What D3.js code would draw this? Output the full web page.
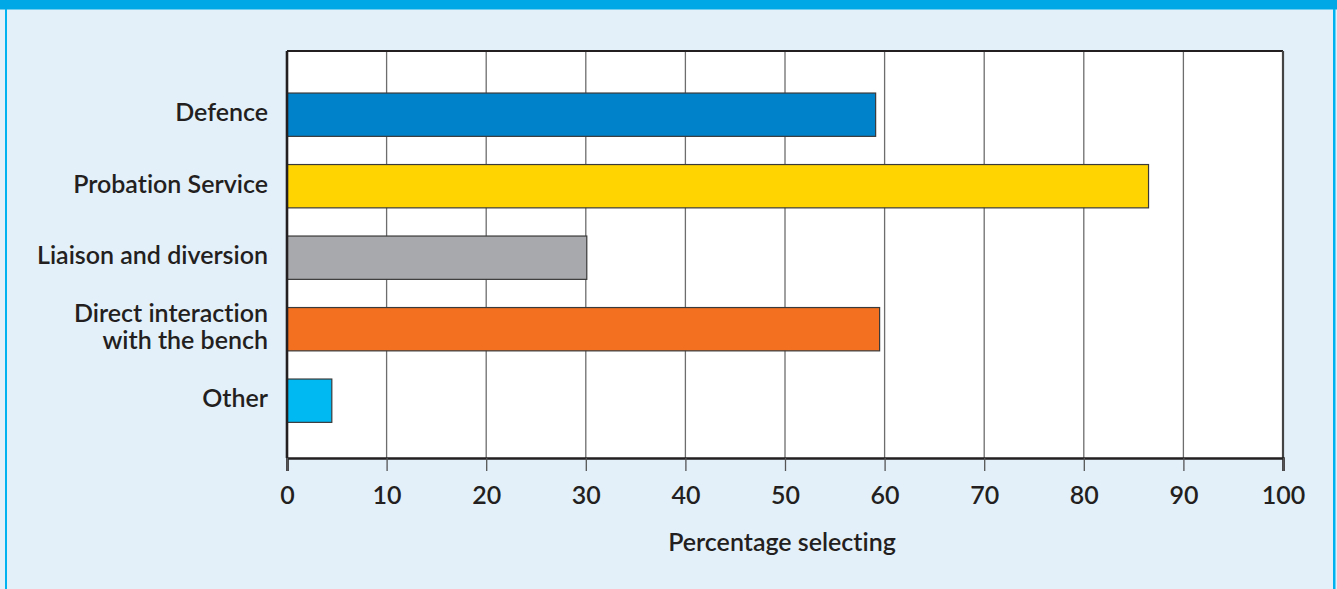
<!DOCTYPE html>
<html><head><meta charset="utf-8">
<script src="https://cdn.jsdelivr.net/npm/d3@7"></script>
<style>
html,body{margin:0;padding:0;background:#fff;}
svg{display:block;}
text{font-family:"Lato",sans-serif;font-weight:600;fill:#231f20;font-variant-ligatures:none;font-feature-settings:"liga" 0;}
</style></head>
<body>
<script>
const categories = ["Defence", "Probation Service", "Liaison and diversion", "Direct interaction\nwith the bench", "Other"];
const values = [59.1, 86.5, 30.1, 59.5, 4.5];
const barColors = ["#0082ca", "#ffd400", "#a7a9ac", "#f37021", "#00b9f2"];
const xTicks = [0, 10, 20, 30, 40, 50, 60, 70, 80, 90, 100];
const xTitle = "Percentage selecting";

const W = 1337, H = 589;
const svg = d3.select("body").append("svg").attr("width", W).attr("height", H);

// frame
svg.append("rect").attr("x",0).attr("y",0).attr("width",W).attr("height",H).attr("fill","#e3f0fa");
svg.append("rect").attr("x",0).attr("y",0).attr("width",W).attr("height",9.5).attr("fill","#00a9e6");
svg.append("rect").attr("x",5).attr("y",9).attr("width",2).attr("height",H-9).attr("fill","#00b2ef");
svg.append("rect").attr("x",1333).attr("y",9).attr("width",2.5).attr("height",H-9).attr("fill","#00b2ef");

const pL = 287, pR = 1283, pT = 51, pB = 458;
const x = d3.scaleLinear().domain([0, 100]).range([pL, pR]);
const y = d3.scaleBand().domain(categories).range([78.95, 436.45]).paddingInner(0.394).paddingOuter(0.197);

svg.append("rect").attr("x",pL).attr("y",pT).attr("width",pR-pL).attr("height",pB-pT).attr("fill","#fff");

// gridlines
svg.append("g").selectAll("line").data(xTicks.slice(1, -1)).join("line")
  .attr("x1", d => x(d)).attr("x2", d => x(d)).attr("y1", pT).attr("y2", pB)
  .attr("stroke", "#6d6d6d").attr("stroke-width", 1.3);

// bars
svg.append("g").selectAll("rect").data(categories).join("rect")
  .attr("x", x(0)).attr("y", d => y(d))
  .attr("width", (d, i) => x(values[i]) - x(0))
  .attr("height", y.bandwidth())
  .attr("fill", (d, i) => barColors[i])
  .attr("stroke", "#3a3a3a").attr("stroke-width", 1.2);

// plot border
svg.append("line").attr("x1",pL).attr("x2",pR).attr("y1",pT).attr("y2",pT).attr("stroke","#231f20").attr("stroke-width",2.2);
svg.append("line").attr("x1",pR).attr("x2",pR).attr("y1",pT).attr("y2",pB).attr("stroke","#444").attr("stroke-width",2.2);

// x axis
const xAxis = d3.axisBottom(x).tickValues(xTicks).tickSize(13).tickPadding(15);
const gx = svg.append("g").attr("transform", `translate(0,${pB})`).call(xAxis);
gx.select(".domain").attr("stroke","#231f20").attr("stroke-width",2.6);
gx.selectAll(".tick line").attr("stroke","#555").attr("stroke-width",1.3);
gx.selectAll(".tick text").attr("font-family","Lato").attr("font-weight",700).attr("font-size",25).attr("fill","#231f20").attr("dy","0.71em");

// y axis (left line + labels)
svg.append("line").attr("x1",pL).attr("x2",pL).attr("y1",pT).attr("y2",pB).attr("stroke","#231f20").attr("stroke-width",2.6);
const lab = svg.append("g").selectAll("text").data(categories).join("text")
  .attr("text-anchor","end").attr("font-size",25);
lab.each(function(d){
  const lines = d.split("\n");
  const t = d3.select(this);
  const cy = y(d) + y.bandwidth()/2;
  lines.forEach((ln, k) => {
    t.append("tspan").attr("x", 268)
     .attr("y", cy + 6.5 + (k - (lines.length-1)/2) * 26.6)
     .text(ln);
  });
});

svg.append("text").attr("x", (pL+pR)/2 - 3).attr("y", 551).attr("text-anchor","middle")
  .attr("font-size",25).text(xTitle);
</script>
</body></html>
